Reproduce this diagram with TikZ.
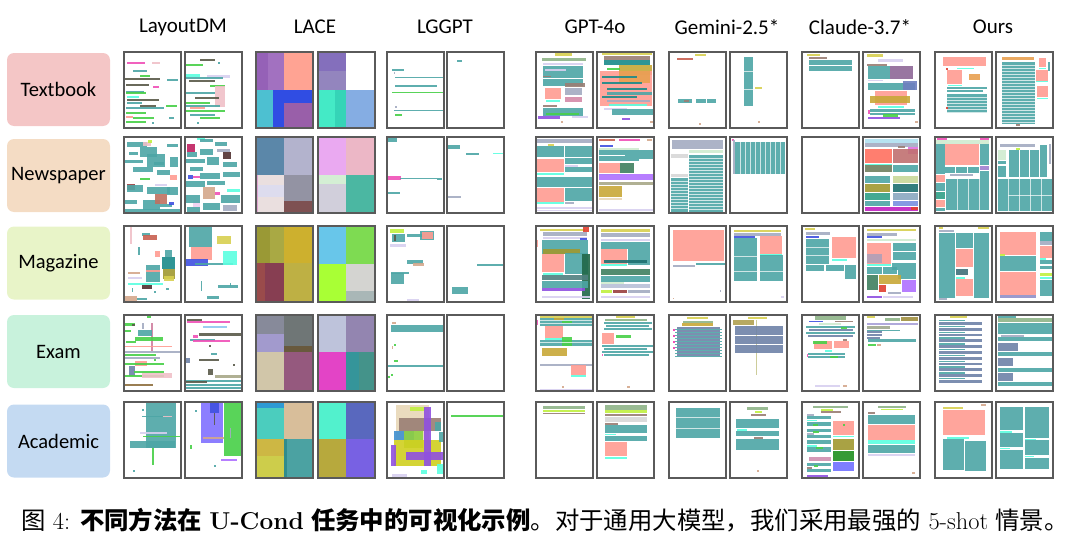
\documentclass[tikz,border=0pt]{standalone}
\usepackage{fontspec}
\newfontfamily\headfont{Carlito}
\newfontfamily\cjk{Noto Sans CJK SC}
\usepackage{tikz}

% page and label colours
\definecolor{framegray}{HTML}{5A5A5A}
\definecolor{tbpink}{HTML}{F4C6C6}
\definecolor{nppeach}{HTML}{F4DCC4}
\definecolor{mglime}{HTML}{E8F4C8}
\definecolor{exmint}{HTML}{C8F2DC}
\definecolor{acblue}{HTML}{C4DAF2}
% layout element colours
\definecolor{tl}{HTML}{4DA6A6}\definecolor{sa}{HTML}{FF9C92}\definecolor{cy}{HTML}{5CFFE0}
\definecolor{gb}{HTML}{A3ABC2}\definecolor{sl}{HTML}{6E82A8}\definecolor{yl}{HTML}{D8D050}
\definecolor{gg}{HTML}{8FB488}\definecolor{lm}{HTML}{C0F040}\definecolor{br}{HTML}{9A7E74}
\definecolor{gr}{HTML}{48D048}\definecolor{pu}{HTML}{9050E0}\definecolor{lv}{HTML}{D8D0F0}
\definecolor{pk}{HTML}{F050B8}\definecolor{dk}{HTML}{5A5A4A}\definecolor{tn}{HTML}{D4A88C}
\definecolor{ol}{HTML}{C8A838}\definecolor{dt}{HTML}{1A8A8A}\definecolor{rd}{HTML}{E04030}
\definecolor{mv}{HTML}{A070A0}\definecolor{sb}{HTML}{6E7FBF}\definecolor{or}{HTML}{E8A050}
\definecolor{rb}{HTML}{C86050}\definecolor{lp}{HTML}{F0C0C8}\definecolor{dr}{HTML}{9A4040}
\definecolor{db}{HTML}{503030}\definecolor{bl}{HTML}{4050E0}\definecolor{dg}{HTML}{408060}
\definecolor{khk}{HTML}{A8A888}\definecolor{lg}{HTML}{D8D8D8}\definecolor{lgn}{HTML}{D0ECD0}
\definecolor{lc}{HTML}{B0E0F0}\definecolor{sr}{HTML}{FF7060}\definecolor{mbr}{HTML}{C07070}
\definecolor{od}{HTML}{708060}\definecolor{lol}{HTML}{C8D898}\definecolor{olb}{HTML}{A09830}
\definecolor{dtb}{HTML}{1E7070}\definecolor{tg}{HTML}{30A088}\definecolor{gbl}{HTML}{8AA8C0}
\definecolor{blb}{HTML}{7890E0}\definecolor{mgb}{HTML}{C020C0}\definecolor{pm}{HTML}{C02060}
\definecolor{pmb}{HTML}{E070E0}\definecolor{pul}{HTML}{A080D0}\definecolor{bs}{HTML}{C07060}
\definecolor{lpb}{HTML}{F0D0F0}\definecolor{ltn}{HTML}{E8D8B8}\definecolor{mvl}{HTML}{B0A0B8}
\definecolor{pur}{HTML}{B070FF}\definecolor{slt}{HTML}{40707A}\definecolor{gbp}{HTML}{9090C8}
\definecolor{dgn}{HTML}{206848}\definecolor{gt}{HTML}{508080}\definecolor{gbm}{HTML}{B8C0D8}
\definecolor{pkv}{HTML}{D080A0}\definecolor{brb}{HTML}{907040}\definecolor{lbl}{HTML}{90C8F0}
\definecolor{olc}{HTML}{B0A050}\definecolor{olv}{HTML}{C8C890}\definecolor{old}{HTML}{A09040}
\definecolor{lva}{HTML}{A8A0D8}\definecolor{gra}{HTML}{A0A890}\definecolor{pbl}{HTML}{8070FF}
\definecolor{blc}{HTML}{4090D0}\definecolor{lgr}{HTML}{90D040}\definecolor{ylw}{HTML}{D0D020}
\definecolor{gdk}{HTML}{209020}\definecolor{bll}{HTML}{7070FF}\definecolor{pkl}{HTML}{D090B0}
\definecolor{mvb}{HTML}{D48AA8}\definecolor{pfb}{HTML}{2E8A8A}\definecolor{pkt}{HTML}{E0A0D0}
% LACE block colours, one group per row
\definecolor{ka}{HTML}{8A50B0}\definecolor{kb}{HTML}{9862BA}\definecolor{kc}{HTML}{FF9A88}
\definecolor{kd}{HTML}{3ABACC}\definecolor{ke}{HTML}{1A3AE0}\definecolor{kf}{HTML}{8E4EA0}
\definecolor{kg}{HTML}{7760B5}\definecolor{kh}{HTML}{8878B8}\definecolor{ki}{HTML}{30E8C0}
\definecolor{kj}{HTML}{20D0B0}\definecolor{kk}{HTML}{78A5E0}
\definecolor{ua}{HTML}{4A7AA0}\definecolor{ub}{HTML}{ABABC8}\definecolor{uc}{HTML}{E8DCDC}
\definecolor{ud}{HTML}{DCDCF0}\definecolor{ue}{HTML}{888899}\definecolor{uf}{HTML}{703F40}
\definecolor{ug}{HTML}{E8A0F0}\definecolor{uh}{HTML}{EAB0C0}\definecolor{ui}{HTML}{D0EED0}
\definecolor{uj}{HTML}{CCCAD8}\definecolor{uk}{HTML}{38B098}
\definecolor{na}{HTML}{908E20}\definecolor{nb}{HTML}{A0A030}\definecolor{nc}{HTML}{C8A818}
\definecolor{nd}{HTML}{903838}\definecolor{ne}{HTML}{7A2A40}\definecolor{nf}{HTML}{B8A830}
\definecolor{ng}{HTML}{58C0E8}\definecolor{nh}{HTML}{70D840}\definecolor{ni}{HTML}{A0FF20}
\definecolor{nj}{HTML}{D0D0CC}\definecolor{nk}{HTML}{A0B0B0}
\definecolor{qa}{HTML}{7A7E90}\definecolor{qb}{HTML}{606868}\definecolor{qc}{HTML}{9890C8}
\definecolor{qd}{HTML}{584828}\definecolor{qe}{HTML}{CCC0A0}\definecolor{qf}{HTML}{8A4870}
\definecolor{qg}{HTML}{B8BDD8}\definecolor{qh}{HTML}{8878A8}\definecolor{qi}{HTML}{E030C0}
\definecolor{qj}{HTML}{208A90}\definecolor{qk}{HTML}{30887E}
\definecolor{wa}{HTML}{1890D0}\definecolor{wb}{HTML}{38C8B8}\definecolor{wc}{HTML}{D4B890}
\definecolor{wd}{HTML}{C8B030}\definecolor{we}{HTML}{C8C838}\definecolor{wf}{HTML}{389898}
\definecolor{wg}{HTML}{40F0C8}\definecolor{wh}{HTML}{4858B8}\definecolor{wi}{HTML}{B0A028}
\definecolor{wj}{HTML}{6A50E0}

\tikzset{
  pageframe/.style={draw=framegray, line width=1.3pt},
  gapline/.style={draw=white, line width=0.6pt, opacity=0.7},
  rowlabel/.style={rounded corners=7pt, minimum width=103pt, minimum height=73pt,
    font=\headfont\fontsize{20.5}{20.5}\selectfont},
  colhead/.style={font=\headfont\fontsize{21}{21}\selectfont},
}

% one layout page: [extra code]{left}{top}{colour/x1/y1/x2/y2 list}
\newcommand{\thumb}[4][]{%
  \begin{scope}[shift={(#2,#3)}]
    \fill[white] (0,0) rectangle (57,76);
    \foreach \col/\xa/\ya/\xb/\yb in {#4}
      {\fill[\col, fill opacity=0.9] (\xa,\ya) rectangle (\xb,\yb);}
    #1
    \draw[pageframe] (0,0) rectangle (57,76);
  \end{scope}}

\begin{document}
\begin{tikzpicture}[x=1pt, y=-1pt]
  \useasboundingbox (0,0) rectangle (1080,546);
  % ---------- column heads ----------
  \node[colhead] (layoutdm) at (183,27) {LayoutDM};
  \node[colhead] (lace)     at (315,27) {LACE};
  \node[colhead] (lggpt)    at (445,27) {LGGPT};
  \node[colhead] (gpt)      at (595,27) {GPT-4o};
  \node[colhead] (gemini)   at (727,27) {Gemini-2.5*};
  \node[colhead] (claude)   at (860,27) {Claude-3.7*};
  \node[colhead] (ours)     at (993,27) {Ours};
  % ---------- row labels ----------
  \node[rowlabel, fill=tbpink]  (textbook)  at (58.5,89.5)  {Textbook};
  \node[rowlabel, fill=nppeach] (newspaper) at (58.5,175.5) {Newspaper};
  \node[rowlabel, fill=mglime]  (magazine)  at (58.5,263)   {Magazine};
  \node[rowlabel, fill=exmint]  (exam)      at (58.5,351.5) {Exam};
  \node[rowlabel, fill=acblue]  (academic)  at (58.5,441)   {Academic};

  % ---------- 1. Textbook ----------
  \thumb{124}{52}{pk/3/10/21/12, lp/28/10/36/12, tl/9/18/23/20, gr/16/23/26/25, dk/1/26/36/28,
    tl/43/27/54/29, dk/2/32/25/34, pk/29/34/35/36, tl/2/39/20/41, gr/2/40/22/42, cy/3/44/15/46,
    dk/3/47/35/49, tl/3/50/18/52, dk/16/53/32/55, gr/42/53/53/55, tl/2/55/40/57, gr/2/60/22/62,
    sa/2/64/9/66, gr/9/65/30/67, tl/45/65/50/67, gr/2/69/22/71, tl/28/70/30/72}
  \thumb{185}{52}{dk/15/7/30/9, gr/0/12/18/14, tl/33/10/35/12, cy/0/22/15/25, lv/22/23/45/26,
    tl/0/25/38/27, dk/4/28/30/30, gr/25/33/40/35, lp/30/34/40/55, tl/0/40/30/42, dk/10/45/34/47,
    gr/0/50/25/52, tl/0/53/35/55, sa/5/55/20/57, gr/0/58/40/60, tl/5/62/30/64, gr/15/65/35/67,
    tl/12/70/14/72}
  \thumb{256}{52}{ka/0/0/12/38, kb/12/0/28/38, kc/28/0/57/38, kd/0/38/17/76, ke/17/38/28/76,
    ke/28/38/57/51, kf/28/51/57/76}
  \thumb{318}{52}{kg/0/0/28/19, kh/0/19/28/38, white/28/0/57/38, ki/0/38/17/76, kj/17/38/28/76,
    kk/28/38/57/76}
  \thumb{387}{52}{tl/5/17/17/18.5, gb/7/20/8/22, tl/8/24.5/57/25.5, tl/8/33/50/34.5, gr/5/39.5/57/41,
    gb/8/54/10/56, tl/7/57.5/57/59, gr/8/62/15/63.5}
  \thumb{447}{52}{tl/10/8/15/9.5}
  \thumb{536}{52}{yl/19/1/36/3.5, gg/6/6/50/9, lv/7/11/47/13, tl/7/14/47/26, lv/9/17/30/19,
    br/7/24/15/25, tl/7/27/47/34, br/29/31/49/35, sa/9/36/25/47, cy/10/48/24/49.5, gb/29/36/46/43,
    mvb/29/45/46/50, br/7/53/21/55, tl/7/56/47/64, gr/10/61/43/63, pu/2/64/24/67, lv/36/64/52/66,
    tn/25/69/27/71}
  \thumb{597}{52}{yl/5/1/55/3, br/7/4/53/8, dt/7/8/53/13, ol/22/13/55/23, gr/10/16/23/18,
    sa/3/19/55/54, or/22/19/53/31, dt/5/24/40/26, dt/5/30/45/32, dt/10/36/50/38, tl/10/40/55/43,
    dt/5/44/40/46, gb/10/48/53/50, cy/12/52/50/54, lv/7/56/30/58, tl/15/57/57/63, pu/25/66/33/68,
    tn/53/69/56/71}
  \thumb{669}{52}{yl/26/2/37/4, rb/8/6/24/8, tl/9/47/23/51, tl/27/47/37/51, tl/38/47/47/51,
    br/15/48/20/50, tn/30/71/32/73}
  \thumb[{\draw[gapline] (14,19) -- (23,19); \draw[gapline] (14,37) -- (23,37);}]{730}{52}
    {tl/14/5/23/54, yl/25/35/32/37, tn/28/69/30/71}
  \thumb{802}{52}{yl/5/2/18/4, br/7/5/25/7, tl/7/8/50/13, tl/7/14/50/19}
  \thumb{863}{52}{yl/4/2/20/5, lv/15/7/40/10, br/4/12/24/14, tl/5/14/50/27, mv/27/14/50/27,
    lv/5/28/20/29, tl/5/31/52/38, sb/40/29/54/38, sa/12/39/44/53, ol/7/44/47/51, cy/15/54/41/55.5,
    tl/7/57/52/59.5, tl/7/60.5/52/63, pk/5/58/7/62, gr/20/62/35/64.5, pu/5/65/37/67, tn/52/69/55/71}
  \thumb[{\foreach \y in {45,48,...,60} {\draw[gapline] (12,\y) -- (52,\y);}}]{935}{52}
    {sa/8/5/51/14, cy/22/15.5/39/17, rd/11/16/13/18, sa/12/18/27/32, or/34/22/45/28,
    cy/13/32.5/27/34, tl/12/35/52/37, tl/12/38/48/40, tl/12/42/52/61, rd/11/55/13/57}
  \thumb[{\foreach \y in {13,16,...,70} {\draw[gapline] (6,\y) -- (39,\y);}}]{996}{52}
    {or/6/5/38/8, tl/6/10/39/72, sa/43/6/50/15, tl/52/10/54/19, cy/43/16/50/17, sa/40/18/52/29,
    cy/40/29/52/30, sa/41/34/52/45, cy/41/45.5/52/47, br/20/72/24/74}

  % ---------- 2. Newspaper ----------
  \thumb{124}{137}{tl/3/5/23/10, tl/43/7/54/10, lp/19/5/27/9, lm/24/3/28/6, tl/16/10/33/20,
    tl/23/17/41/30, tl/1/23/19/26, tl/46/20/54/30, tl/9/30/29/35, tl/33/33/46/38, gr/16/41/26/43,
    sa/46/38/53/43, dr/3/47/11/53, tl/3/48/19/55, tl/23/50/46/57, lv/31/47/43/49, tl/43/50/54/58,
    tl/1/63/13/67, tl/19/63/36/73, bs/31/57/43/67, tl/1/72/56/75, tl/30/25/40/28, tl/5/15/14/18,
    tl/36/67/48/70, bl/45/65/50/68}
  \thumb{185}{137}{cy/12/0/20/3, pm/2/7/10/15, tl/15/2/28/5, tl/30/5/42/9, db/38/15/46/22,
    gb/32/12/45/15, tl/2/15/12/20, tl/15/12/28/18, tl/0/22/20/26, tl/22/20/34/28, tl/38/25/52/30,
    tl/5/30/18/34, bl/3/38/8/42, pk/8/39/15/41, tl/15/36/35/42, tl/38/35/55/40, tl/0/44/20/50,
    tl/22/44/40/48, tn/18/50/30/62, pk/30/55/35/58, cy/42/52/55/55, lpb/8/63/15/70, tl/0/58/15/66,
    tl/36/58/55/66, tl/18/66/35/73, gb/38/68/52/74, tl/2/70/15/75}
  \thumb{256}{137}{ua/0/0/28/38, ub/28/0/57/38, uc/0/38/28/76, ud/0/48/28/60, pkt/0/38/1.5/76,
    ue/28/38/57/64, uf/28/64/57/76}
  \thumb{318}{137}{ug/0/0/28/38, uh/28/0/57/38, ui/0/38/28/47, uj/0/47/28/76, uk/28/38/57/76}
  \thumb{387}{137}{tl/1/0/10/5, pk/1/39/14/43, tl/13/41/50/42.2, tl/50/40.5/55/43, tl/1/55/13/57}
  \thumb{447}{137}{tl/1/8/13/12, tl/19/16/32/18, cy/46/16/56/17, gb/1/59/14/61}
  \thumb{536}{137}{gb/1/2/56/6, yl/12/7/18/9, tl/1/9/28/20, tl/29/9/56/20, tl/29/21/56/27,
    sa/1/22/28/35, lv/29/28/42/30, tl/29/30/56/35, cy/1/36/28/38, tl/1/40/56/50, sa/1/51/28/65,
    tl/29/51/56/64, cy/1/65/28/67, gb/29/65/38/67, lv/1/70/56/72, lv/1/73/56/74}
  \thumb{597}{137}{rb/2/2/18/4, pk/22/1.5/43/4, tn/50/2/55/4, bl/3/8/16/10, lgn/2/11/42/12.5,
    tl/2/13/28/18, tl/28/13/42/24, tl/42/13/56/22, tl/2/19/28/24, sa/2/26/23/36, dg/23/26/37/36,
    cy/2/36.5/23/38, pur/2/37/57/43, khk/2/45/57/48, ol/2/49/25/60, ltn/2/61/25/63, lv/2/72/57/73.5}
  \thumb[{\foreach \y in {21,24,...,72} {\draw[gapline] (20,\y) -- (54,\y);}
      \foreach \y in {44,47,...,72} {\draw[gapline] (2,\y) -- (19,\y);}}]{669}{137}
    {gb/3/3/54/12, lgn/20/13/54/16, lg/2/17/19/21, tl/20/18/54/75, lg/2/37/19/40, tl/2/41/19/75}
  \thumb[{\foreach \xs in {10,15,...,50} {\draw[gapline] (\xs,5) -- (\xs,37);}}]{730}{137}
    {pk/2/2/4/4, gb/3/3/5/37, tl/5/5/55/37}
  \thumb{802}{137}{white/0/0/1/1}
  \thumb{863}{137}{lc/2/2/55/6, gb/2/6/55/10, br/35/9/42/11, pmb/45/10/55/17, sr/2/12/29/26,
    mbr/30/12/55/26, cy/2/26.5/29/28, od/2/28/29/35, tl/30/28/55/35, tl/2/39/27/46,
    lol/30/39/55/46, olb/2/47/27/55, dtb/30/47/55/55, tg/2/56/27/63, gbl/30/56/55/63,
    tl/2/63.5/27/69, blb/30/63.5/55/69, mgb/2/70/55/74, rd/48/70/55/73}
  \thumb[{\foreach \xs in {22,33,44} {\draw[gapline] (\xs,42) -- (\xs,73);}}]{935}{137}
    {pk/2/1/12/2.5, pk/45/1/54/2.5, lgn/1/3/54/7, sa/10/7/44/28, tl/1/7/10/37, tl/45/7/54/28,
    pul/45/29/54/33, tl/10/30/20/36, tl/21/30/32/36, tl/33/30/44/36, gb/15/37/38/39, tl/45/34/54/42,
    sa/1/38/10/45, tl/11/42/54/73, tl/1/46/10/54, tg/1/55/10/62, sa/1/63/10/70, tl/1/71/10/74}
  \thumb[{\foreach \xs in {12,23,34,45} {\draw[gapline] (\xs,42) -- (\xs,74);}
      \draw[gapline] (12,58) -- (56,58);}]{996}{137}
    {gb/4/7/39/10, lm/20/11/24/12.5, lgn/2/13/10/23, tl/13/13/23/40, tl/24/13/33/40,
    tl/34/13/43/40, tl/44/8/51/40, gb/53/7/55/27, tl/2/24/10/27, tl/2/29/10/40, tl/2/42/56/74}

  % ---------- 3. Magazine ----------
  \thumb{124}{226}{lp/6/1/7.5/18, tl/18/7/26/10, rb/19/9/33/14, tl/14/21/15.5/29, sa/31/25/36/31,
    tl/41/24/48/31, dt/38/31/51/43, tl/22/39/36/56, olb/39/43/51/53, yl/40/50/50/55,
    sa/22/44/36/45.5, tn/4/46/16/47.5, lv/4/51/18/52.5, cy/4/57/39/59, db/18/59/28/63,
    tl/8/62/9/66, tl/42/62/45/64, tl/30/65/32/67, tn/1/70/13/75, tl/13/72/23/74}
  \thumb{185}{226}{tl/4/1/27/21, sa/6/21/27/34, bl/1/33/23/40, tl/10/37/48/38.5, yl/32/10/46/18,
    cy/38/25/52/39, tl/16/55/17/65, tl/33/59/53/62, tl/22/70/34/73, tl/45/57/46/60}
  \thumb{256}{226}{na/0/0/14/37, nb/14/0/28/37, nc/28/0/57/37, nd/0/37/9/76, ne/9/37/28/76,
    nf/28/37/57/76}
  \thumb{318}{226}{ng/0/0/28/38, nh/28/0/57/38, ni/0/38/28/76, nj/28/38/57/65, nk/28/65/57/76}
  \thumb{387}{226}{lm/3/3/17/7, tl/5/8/18/16, dk/7/9/9/15, tl/20/8/38/11, tl/33/5/47/14,
    sa/35/6/46/13, lv/3/18/19/20.5, tl/20/34/36/38, tn/26/37/37/40, tl/4/47/17/58, tl/4/46/22/48,
    lv/20/73/32/75}
  \thumb{447}{226}{tl/30/38/56/39.5, tl/5/61/21/68}
  \thumb{536}{226}{yl/4/3/49/5, rd/47/1/53/6, gb/7/6/51/10, lv/7/10.5/51/12.5, bl/44/12/51/13.5,
    sa/1/14/2/21, tl/6/14/52/28, olb/7/23/44/28, sa/6/28/28/46, tl/29/27/52/48, dgn/46/28/54/73,
    cy/7/47/27/48.5, gt/6/49/52/54, tl/6/55/52/62, pu/6/62/49/65, lv/6/70/54/71.5}
  \thumb{597}{226}{yl/4/3/53/6, gb/4/7/53/11, lv/4/13/53/15, tl/4/16/53/23, sa/4/23/30/38,
    tl/31/23/53/39, dtb/7/34/50/37, cy/4/38/30/40, dg/4/43/53/49, tl/4/50/53/56, lgn/4/56/27/57.5,
    gbm/4/58/53/62, lm/4/64/15/67, dr/16/64/30/67, gb/31/64/53/67, lv/4/70/53/72}
  \thumb{669}{226}{sa/4/4/55/35, gb/4/39/26/41, tl/27/37/56/39, tn/4/72/5/73, gb/51/64/52/66}
  \thumb[{\draw[gapline] (4,30) -- (27,30); \draw[gapline] (4,45) -- (27,45);
      \draw[gapline] (30,45) -- (53,45);}]{730}{226}
    {yl/4/4/51/6, gb/4/7/51/10, bl/4/10/25/12, tl/4/12/27/55, sa/30/10/52/28, cy/30/28/52/29.5,
    tl/30/29/53/55, lv/51/70/54/72}
  \thumb[{\draw[gapline] (4,21) -- (27,21); \draw[gapline] (4,29) -- (27,29);}]{802}{226}
    {yl/3/2/13/4, gb/4/6/28/9, bl/4/10/17/11.5, tl/4/13/27/38, sa/30/11/54/32, cy/30/33/45/35,
    tl/4/39/22/45, tl/24/39/42/45, tl/43/39/54/53}
  \thumb{863}{226}{yl/4/3/53/5, gb/4/7/34/10, bl/4/10/19/12, lgn/4/13/53/15, sa/4/17/28/38,
    mvl/4/28/19/37, tl/30/17/53/25, tl/30/26/53/34, cy/4/38/28/40, tl/29/37/53/44, tl/4/41/19/48,
    tl/20/41/34/48, tl/35/44/53/53, dg/4/49/15/64, ol/16/49/38/58, pur/39/54/53/66, rd/16/59/23/66,
    gb/25/66/38/67.5, pu/4/70/19/71.5, lv/20/70/50/71.5}
  \thumb{935}{226}{yl/4/1/8/3, yl/43/1/54/3, gb/4/4/19/6, tl/4/7/20/72, tl/21/7/38/22,
    sa/21/23/38/41, slt/21/43/33/49, cy/21/51/30/52.5, sa/21/53/38/70, tl/39/7/54/72, gb/4/72/12/74}
  \thumb{996}{226}{sa/4/6/40/29, tl/4/30/40/45, sa/4/46/40/69, lm/4/28/9/29.5, gbp/4/69/40/72,
    tl/44/6/57/15, gb/44/15/57/19, sa/44/20/57/32, cy/44/32/50/33.5, tl/44/34/57/38,
    tl/44/40/57/43, lm/44/47/57/50, cy/44/51/57/52.5, tl/44/54/57/70}

  % ---------- 4. Exam ----------
  \thumb{124}{315}{gr/23/1/27/3, gr/1/8/11/11, dk/8/9/11/11, gb/18/8/20/14, pkv/27/8/29/36,
    tl/14/15/28/21, gr/1/15/7/17, gr/11/22/39/26, gr/2/26/12/28, sa/1/31/48/32, gb/1/36/56/38,
    gr/1/39/32/40.5, gb/1/42/36/43.5, gr/30/44/32/46, sa/11/46/23/51, sl/5/51/11/61,
    gr/1/48/40/49.5, gr/10/56/40/57.5, gr/1/60/40/61.5, lp/18/58/48/63, brb/1/69/29/71}
  \thumb{185}{315}{dk/2/4/17/5.5, pk/2/6/45/7.5, lbl/18/11/42/12.5, dk/14/18/56/21, pk/8/20/13/23,
    tl/5/24/30/25.5, pk/8/25/45/26.5, dk/24/30/26/32, tl/26/38/32/39.5, sl/1/43/5/48,
    dk/14/44/34/45.5, dk/48/49/50/51, dk/23/54/28/60, khk/30/60/56/63, tl/1/65/56/66.5,
    dk/1/66/22/67.5, tl/1/69/56/70.5, tl/1/72/56/73.5}
  \thumb{256}{315}{qa/0/0/28/19, qb/28/0/57/31, qc/0/19/28/37, qd/28/31/57/37, qe/0/37/28/76,
    qf/28/37/57/76}
  \thumb{318}{315}{qg/0/0/28/37, qh/28/0/57/37, qi/0/37/28/76, qj/28/37/41/76, qk/41/37/57/76}
  \thumb{387}{315}{tn/5/7/9/9, tl/4/10/56/17, gr/7/29/9/31, tn/5/31/6/34, gr/7/45/11/47,
    tl/1/50/56/51.5, gr/4/59/6/61, gr/1/61/3/63}
  \thumb{447}{315}{white/0/0/1/1}
  \thumb[{\foreach \y in {5,8,27} {\draw[gapline] (4,\y) -- (56,\y);}}]{536}{315}
    {yl/4/1/56/3, tl/4/3/56/11, ol/18/3/28/5, gr/26/6/36/8, pk/0.5/5/2/10, sa/9/11/27/23,
    cy/9/23/27/24.5, tl/4/25/56/31, gr/26/22/36/31, ol/6/33/31/41, gb/4/49/56/50.5, sa/35/50/50/60,
    cy/35/60/50/61.5, tn/26/71/28/72.5, lv/4/74/56/75}
  \thumb{597}{315}{yl/19/1/38/2.5, gg/8/4/50/6, tl/7/7/55/9, tl/9/10/52/12, tl/7/13/55/15,
    sa/5/18/17/29, gr/19/20/34/23, tl/5/30/56/32, tl/7/33/50/35, tl/5/36/56/38, tl/7/39/52/41,
    pk/5/39/6/41, tn/30/71/33/72.5}
  \thumb[{\foreach \y in {11.5,14.5,...,38.5}
      {\fill[sl, fill opacity=0.9] (8,\y) rectangle (51,{\y+2});
       \fill[tl, fill opacity=0.9] (6,{\y+2}) rectangle (53,{\y+2.8});}
      \foreach \y in {14,20,26,32} {\fill[pk] (4,\y) rectangle (6,{\y+1.5});}}]{669}{315}
    {yl/18/2/39/4, gg/14/6/44/8, ol/13/8/44/11}
  \thumb{730}{315}{yl/18/2/37/3.5, olc/3/5/24/10, olv/26/5/26.6/60, sl/5/11/53/20, sl/5/21/53/29,
    sl/5/30/53/38}
  \thumb{802}{315}{gg/13/1/44/5, bl/7/5.5/21/7, br/33/5.5/51/7, lgn/17/8/39/9.5, tl/4/11/53/13,
    gr/39/12/45/14, sl/7/14/51/16, tl/4/17/53/19, sl/6/20/51/22, br/41/24/45/25.5, sa/12/26/30/34,
    sa/32/26/47/33, gr/11/26/25/29, cy/23/35/30/36.5, tl/6/38/43/40, tl/6/41/43/43, gr/28/41/36/43,
    pk/5/39/6/42, lv/13/70/38/71.5, tn/41/70/45/71.5}
  \thumb{863}{315}{yl/4/1/12/3, gg/22/3/37/6, old/38/2/55/6, lva/4/8/55/10, gra/4/11/27/14,
    tl/4/14.5/37/15.5, sl/4/16/19/18, sl/4/19/19/21, sl/4/22/17/24, tl/5/24/53/27, gr/5/29/13/30.5,
    tn/14/29/18/30.5}
  \thumb[{\foreach \y in {5,10.8,...,64}
      {\fill[tl, fill opacity=0.9] (4,\y) rectangle (30,{\y+1.4});
       \fill[sl, fill opacity=0.9] (4,{\y+2}) rectangle (47,{\y+4.8});}}]{935}{315}
    {yl/15/1/32/2.5}
  \thumb{996}{315}{tl/2/1/20/2.5, gg/2/3/56/7, tl/2/8/56/19, gb/5/20/28/21.5, tl/2/22/56/26,
    sl/2/28/22/36, tl/2/37/56/41, sl/2/43/17/51, tl/2/53/56/57, sl/2/58/17/66, tl/2/67/56/71}

  % ---------- 5. Academic ----------
  \thumb{124}{402}{tl/22/0/52/46, tl/18/13.5/39/15, lp/39/13.5/48/15, tl/18/7/19.5/8.5,
    lv/16/30/43/31.5, gr/19/33.5/56/35, tl/6/39/51/46, gr/28/46/30/63, tl/9/68/10.5/70}
  \thumb{185}{402}{pbl/16/0/38/41, bl/25/0/34/11, dk/29/11/30/23, gr/39/0/56/54, tn/18/35/39/37,
    gb/45/26/46/36, gr/5/43/7/47, pur/36/57/52/59, tl/10/8/11.5/9.5, tl/29/63/30.5/64.5}
  \thumb{256}{402}{wa/0/0/28/6, wb/0/6/28/37, wc/28/0/57/37, wd/0/37/28/54, we/0/54/28/76,
    wf/28/37/57/76, pfb/28/37/31/76}
  \thumb{318}{402}{wg/0/0/28/37, wh/28/0/57/37, wi/0/37/28/76, wj/28/37/57/76}
  \thumb{387}{402}{ltn/9/3/42/38, lm/23/5/38/9, br/12/16/54/29, tl/48/20/54/29, blc/7/29/27/38,
    lgr/17/29/36/46, ylw/7/38/54/64, pu/37/5/44/64, pu/19/50/56/58, pu/4/43/9/64, tl/52/30/56/40,
    cy/34/68/40/72, cy/50/62/56/72, lv/5/72/20/75}
  \thumb{447}{402}{gr/4/13/56/14.5}
  \thumb{536}{402}{gg/7/4/49/7, lm/7/8/49/10, br/7/10.5/49/12}
  \thumb{597}{402}{gg/8/3/50/8, lm/8/8/50/11, br/8/12/50/13.5, lg/8/15/50/20, br/8/21/21/22.5,
    tl/8/23/50/31, cy/8/31.5/19/33, tl/8/34/50/39, sa/8/40/30/54, cy/8/55/30/57}
  \thumb[{\draw[gapline] (7,15) -- (51,15); \draw[gapline] (7,26) -- (51,26);}]{669}{402}
    {tl/7/6/51/36}
  \thumb{730}{402}{gg/17/5/38/8, lm/25/9/32/10.5, br/21/12/36/13.5, tl/6/17/49/26, cy/7/27/17/28.5,
    tl/6/29/49/34, br/24/35/33/36.5, tl/6/37/49/48, tn/27/68/29/70}
  \thumb{802}{402}{gg/11/4/46/6, lm/19/7/31/8.5, br/19/9/39/11, gb/5/12/12/13.5, tl/5/14/29/17,
    cy/5/17.5/15/19, tl/5/20/29/24, gr/11/22/16/24, tl/5/27/29/30, gr/11/29/17/31, gb/5/31/12/32.5,
    tl/5/33/29/36, tl/5/38/29/42, cy/5/43/15/44.5, tl/5/45/29/50, gr/14/45/21/47, pkl/7/55/29/59,
    tl/5/61/29/64, gr/12/63/16/65, br/5/65/10/66.5, tl/5/67/29/70, sa/31/19/52/33, gr/41/22/43/24,
    cy/31/33.5/52/35, olb/31/37/52/48, gdk/31/49/52/59, bll/31/60/52/69, pu/5/73/26/74.5}
  \thumb{863}{402}{gg/15/4/43/6, lm/18/6.5/40/8, br/5/10/12/12, tl/5/13/52/22, sa/5/23/52/38,
    cy/5/38/52/42, tl/5/43/52/51, lv/5/52/52/53.5, tn/49/70/52/72}
  \thumb{935}{402}{tn/46/2/51/3.5, yl/8/5/28/7, sa/8/8/50/33, cy/12/35/34/36.5, tl/8/37/29/68,
    tl/30/39/51/69}
  \thumb{996}{402}{tl/4/5/27/28, tl/29/5/53/36, cy/4/29/16/30.5, tl/4/31/27/45, cy/29/36.5/40/37.5,
    tl/29/38/53/53, cy/4/46/14/47, tl/4/48/27/67, cy/29/54/38/55, tl/29/56/53/67}

  % ---------- caption ----------
  \node[anchor=west, font=\fontsize{24.4}{24.4}\selectfont, inner sep=0pt] (caption) at (21,520)
    {{\cjk 图} 4: {\cjk\bfseries 不同方法在} \textbf{U-Cond} {\cjk\bfseries 任务中的可视化示例}{\cjk 。对于通用大模型，我们采用最强的} 5-shot {\cjk 情景。}};
\end{tikzpicture}
\end{document}
